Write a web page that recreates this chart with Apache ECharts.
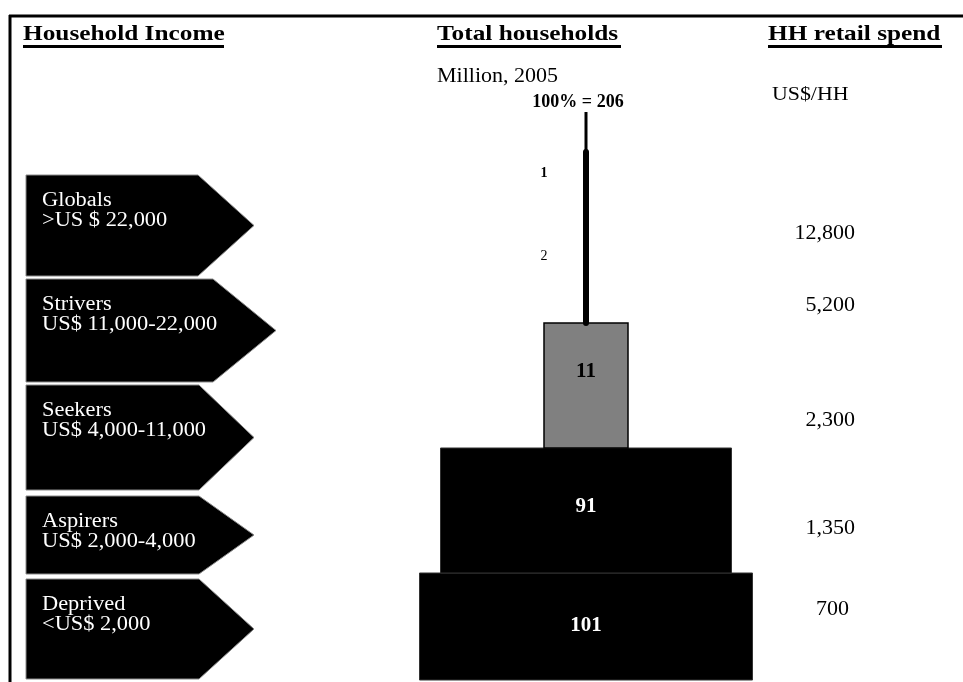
<!DOCTYPE html>
<html><head><meta charset="utf-8">
<script src="https://cdn.jsdelivr.net/npm/echarts@6/dist/echarts.min.js"></script>
<style>html,body{margin:0;padding:0;background:#fff}#c{width:963px;height:682px}</style>
</head><body><div id="c"></div>
<script>
// ---- data ----
const segments = ['Globals', 'Strivers', 'Seekers', 'Aspirers', 'Deprived'];
const incomeRanges = ['>US $ 22,000', 'US$ 11,000-22,000', 'US$ 4,000-11,000', 'US$ 2,000-4,000', '<US$ 2,000'];
const households = [1, 2, 11, 91, 101];          // million households, 2005
const totalHouseholds = 206;
const retailSpend = [12800, 5200, 2300, 1350, 700]; // US$ per household
const headers = ['Household Income', 'Total households', 'HH retail spend'];

// ---- layout (visual only) ----
const SERIF = "'Liberation Serif','Times New Roman',serif";
const rowBands = [[175, 276], [279, 382], [385, 490], [496, 574], [579, 679]];
const arrowLeft = 26;
const arrowBody = [198, 213, 199, 199, 199];
const arrowTip = [254, 276, 254, 254, 254];
const pyrCenter = 586;
const tierShape = [
  {kind: 'line', y0: 112, y1: 152, lw: 3, lx: 544, ly: 173, size: 14, weight: 'bold', color: '#000'},
  {kind: 'line', y0: 152, y1: 323, lw: 6, lx: 544, ly: 256, size: 14, weight: 'normal', color: '#000'},
  {kind: 'rect', half: 42, y0: 323, y1: 448, fill: '#808080', lx: 586, ly: 372, size: 21, weight: 'bold', color: '#000'},
  {kind: 'rect', half: 145.5, y0: 448, y1: 573, fill: '#000', lx: 586, ly: 507, size: 21, weight: 'bold', color: '#fff'},
  {kind: 'rect', half: 166.5, y0: 573, y1: 680, fill: '#000', lx: 586, ly: 626, size: 21, weight: 'bold', color: '#fff'}
];
const spendRight = [855, 855, 855, 855, 849];
const spendY = [233, 305, 420, 528, 609];

const chart = echarts.init(document.getElementById('c'), null, {renderer: 'canvas'});

function txt(x, y, text, font, fill, align, vAlign, scaleX) {
  return {
    type: 'text', x: x, y: y, scaleX: scaleX || 1,
    style: {text: text, font: font, fill: fill, align: align, textAlign: align,
            verticalAlign: vAlign, textVerticalAlign: vAlign}
  };
}

const arrowSeries = {
  type: 'custom', clip: false, silent: true,
  data: segments.map((s, i) => [i, 0]),
  renderItem(params, api) {
    const i = api.value(0);
    const t = rowBands[i][0], b = rowBands[i][1], mid = (t + b) / 2;
    const pts = [[arrowLeft, t], [arrowBody[i], t], [arrowTip[i], mid], [arrowBody[i], b], [arrowLeft, b]].map(p => api.coord(p));
    const tp = api.coord([42, t + 16]);
    const label = txt(tp[0], tp[1], segments[i] + '\n' + incomeRanges[i], '20px ' + SERIF, '#fff', 'left', 'top', 1.12);
    label.style.lineHeight = 20;
    return {type: 'group', children: [
      {type: 'polygon', shape: {points: pts}, style: {fill: '#000', stroke: '#8a8a8a', lineWidth: 1}},
      label
    ]};
  }
};

const pyramidSeries = {
  type: 'custom', clip: false, silent: true,
  data: [4, 3, 2, 1, 0].map(i => [i, households[i]]),
  renderItem(params, api) {
    const i = api.value(0);
    const v = api.value(1);
    const s = tierShape[i];
    const children = [];
    if (s.kind === 'line') {
      const p0 = api.coord([pyrCenter, s.y0]), p1 = api.coord([pyrCenter, s.y1]);
      children.push({type: 'line', shape: {x1: p0[0], y1: p0[1], x2: p1[0], y2: p1[1]},
        style: {stroke: '#000', lineWidth: s.lw, lineCap: s.lw > 4 ? 'round' : 'butt'}});
    } else {
      const a = api.coord([pyrCenter - s.half, s.y0]), c = api.coord([pyrCenter + s.half, s.y1]);
      children.push({type: 'rect', shape: {x: a[0], y: a[1], width: c[0] - a[0], height: c[1] - a[1]},
        style: {fill: s.fill, stroke: s.fill === '#000' ? '#333' : '#000', lineWidth: s.fill === '#000' ? 1 : 1.5}});
    }
    const lp = api.coord([s.lx, s.ly]);
    children.push(txt(lp[0], lp[1], String(v), s.weight + ' ' + s.size + 'px ' + SERIF, s.color, 'center', 'middle', 1));
    return {type: 'group', children: children};
  }
};

const spendSeries = {
  type: 'custom', clip: false, silent: true,
  data: retailSpend.map((v, i) => [i, v]),
  renderItem(params, api) {
    const i = api.value(0);
    const p = api.coord([spendRight[i], spendY[i]]);
    return txt(p[0], p[1], api.value(1).toLocaleString('en-US'), '22px ' + SERIF, '#000', 'right', 'middle', 1);
  }
};

const headerX = [23, 437, 768];
const headerW = [201, 184, 174];
const graphics = [
  {type: 'line', shape: {x1: 9, y1: 16, x2: 963, y2: 16}, style: {stroke: '#000', lineWidth: 3}},
  {type: 'line', shape: {x1: 10, y1: 15, x2: 10, y2: 682}, style: {stroke: '#000', lineWidth: 3}}
];
headers.forEach((h, k) => {
  graphics.push(txt(headerX[k], 34, h, 'bold 22px ' + SERIF, '#000', 'left', 'middle', 1.15));
  graphics.push({type: 'line', shape: {x1: headerX[k], y1: 46.5, x2: headerX[k] + headerW[k], y2: 46.5}, style: {stroke: '#000', lineWidth: 3}});
});
graphics.push(txt(437, 76.5, 'Million, 2005', '20px ' + SERIF, '#000', 'left', 'middle', 1.1));
graphics.push(txt(578, 102, '100% = ' + totalHouseholds, 'bold 18px ' + SERIF, '#000', 'center', 'middle', 1));
graphics.push(txt(772, 95, 'US$/HH', '19px ' + SERIF, '#000', 'left', 'middle', 1.15));

chart.setOption({
  animation: false,
  backgroundColor: '#fff',
  grid: {left: 0, right: 0, top: 0, bottom: 0},
  xAxis: {type: 'value', min: 0, max: 963, show: false},
  yAxis: {type: 'value', min: 0, max: 682, inverse: true, show: false},
  graphic: graphics,
  series: [arrowSeries, pyramidSeries, spendSeries]
});
</script>
</body></html>
